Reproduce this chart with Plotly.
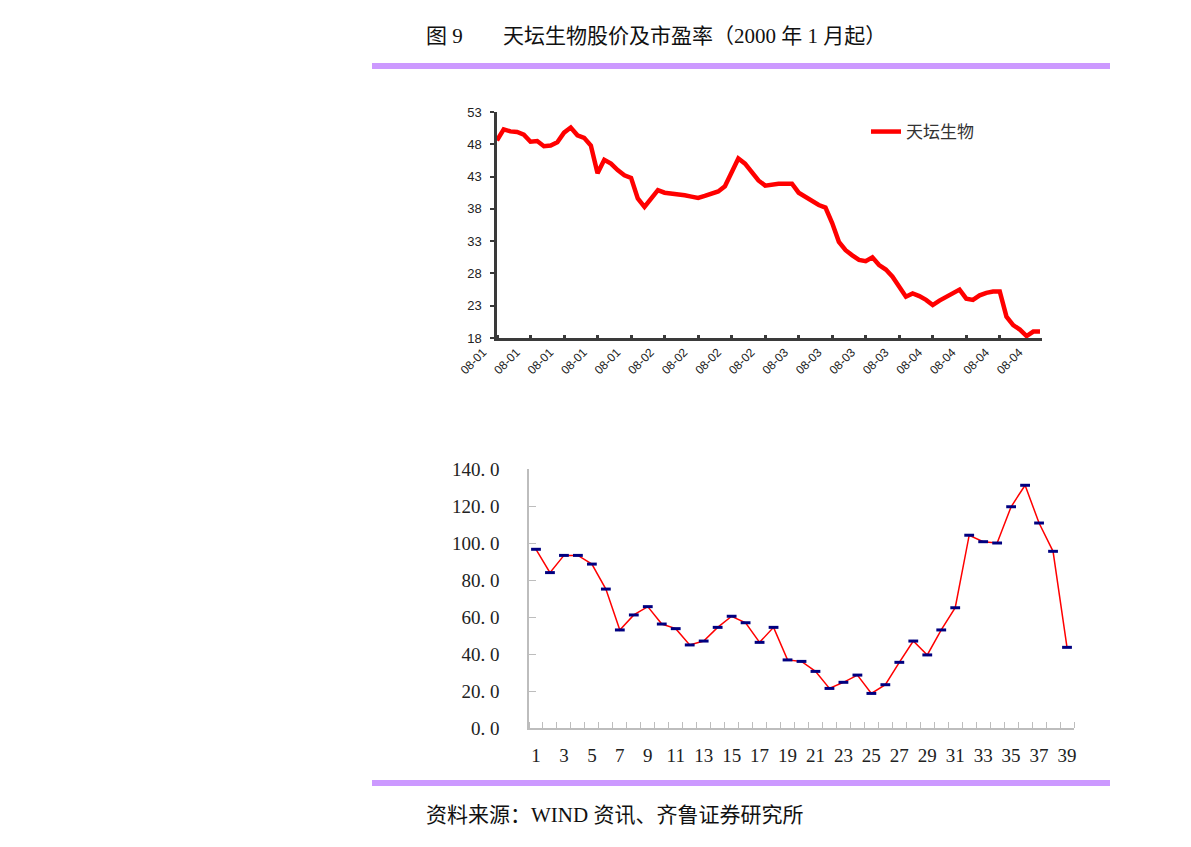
import plotly.graph_objects as go

# ---------------- data ----------------
# Top chart: daily close price of 天坛生物 (trading-day index 0..81)
price = [48.6, 50.3, 50.0, 49.9, 49.5, 48.4, 48.5, 47.7, 47.8, 48.3,
         49.8, 50.6, 49.4, 49.0, 47.8, 43.5, 45.6, 45.0, 44.0, 43.2,
         42.8, 39.6, 38.3, 39.6, 40.9, 40.5, 40.4, 40.2, 40.1, 39.9,
         39.7, 40.0, 40.4, 40.7, 41.5, 43.6, 45.8, 45.0, 43.7, 42.4,
         41.6, 41.8, 41.9, 41.9, 41.9, 40.5, 39.9, 39.1, 38.6, 38.2,
         35.8, 32.9, 31.6, 30.8, 30.1, 29.9, 30.5, 29.3, 28.6, 27.5,
         26.0, 24.4, 24.9, 24.5, 23.9, 23.1, 23.8, 24.4, 24.9, 25.5,
         24.1, 23.9, 24.6, 25.0, 25.2, 25.2, 21.3, 20.0, 19.3, 18.3,
         19.0, 19.0]
day_index = list(range(len(price)))
date_labels = ["08-01"] * 5 + ["08-02"] * 4 + ["08-03"] * 4 + ["08-04"] * 4
label_days = [5 * k for k in range(len(date_labels))]
tick_days = [5 * k for k in range(16)]
price_ticks = [18, 23, 28, 33, 38, 43, 48, 53]

# Bottom chart: P/E ratio by period 1..39
pe_period = list(range(1, 40))
pe_value = [96.6, 84.0, 93.3, 93.3, 88.6, 75.1, 53.0, 61.1, 65.6, 56.2,
            53.7, 44.9, 47.0, 54.4, 60.4, 56.9, 46.3, 54.4, 36.8, 36.0,
            30.6, 21.4, 24.7, 28.6, 18.7, 23.4, 35.5, 47.0, 39.5, 53.0,
            65.0, 104.2, 100.7, 100.0, 119.6, 131.2, 110.8, 95.5, 43.6]
pe_ticks = [0, 20, 40, 60, 80, 100, 120, 140]
pe_ticktext = ["0. 0", "20. 0", "40. 0", "60. 0", "80. 0", "100. 0", "120. 0", "140. 0"]
period_labels = [p for p in pe_period if p % 2 == 1]

title_num = "图 9"
title_text = "天坛生物股价及市盈率（2000 年 1 月起）"
source_text = "资料来源：WIND 资讯、齐鲁证券研究所"

# ---------------- figure ----------------
OFF = 8                      # page body margin
W, H = 1191 - OFF, 847 - OFF
def px_x(p):
    return (p - OFF) / W
def px_y(p):
    return 1 - (p - OFF) / H

fig = go.Figure()
fig.add_trace(go.Scatter(
    x=day_index, y=price, mode="lines", name="天坛生物",
    line=dict(color="#ff0000", width=4.5), xaxis="x", yaxis="y"))
fig.add_trace(go.Scatter(
    x=pe_period, y=pe_value, mode="lines+markers", showlegend=False,
    line=dict(color="#ff0000", width=1.5),
    marker=dict(symbol="line-ew", size=7, color="#000080",
                line=dict(width=3, color="#000080")),
    xaxis="x2", yaxis="y2"))

sans = "Liberation Sans, Arial, sans-serif"
serif = "Liberation Serif, Times New Roman, serif"
cjk = "Liberation Serif, Noto Sans CJK SC, serif"
dark = "#3a3a3a"
grey = "#bdbdbd"

fig.update_layout(
    width=W, height=H, autosize=False,
    margin=dict(l=0, r=0, t=0, b=0, pad=0, autoexpand=False),
    paper_bgcolor="white", plot_bgcolor="white",
    showlegend=True,
    legend=dict(x=px_x(866), y=px_y(132), xanchor="left", yanchor="middle",
                font=dict(family="Noto Sans CJK SC", size=17, color="#333333"),
                bgcolor="rgba(0,0,0,0)", itemwidth=30),
    xaxis=dict(domain=[px_x(497), px_x(1042)], range=[0, 81.3], anchor="y",
               automargin=False,
               showline=True, linecolor=dark, linewidth=2.5, showgrid=False,
               zeroline=False, tickmode="array", tickvals=label_days,
               ticktext=date_labels, ticks="", tickangle=-45,
               ticklabelshift=-14,
               tickfont=dict(family=sans, size=12, color="#222222"),
               minor=dict(tickmode="array", tickvals=tick_days, ticks="inside",
                          ticklen=3, tickwidth=2.5, tickcolor=dark, showgrid=False)),
    yaxis=dict(domain=[px_y(338), px_y(112)], range=[18, 53], anchor="x",
               automargin=False,
               showline=True, linecolor=dark, linewidth=2.5, showgrid=False,
               zeroline=False, tickmode="array", tickvals=price_ticks,
               ticks="outside", ticklen=4, tickwidth=2, tickcolor=dark,
               ticklabelstandoff=6,
               tickfont=dict(family=sans, size=13, color="#222222")),
    xaxis2=dict(domain=[px_x(529), px_x(1074)], range=[0.5, 39.5], anchor="y2",
                automargin=False,
                showline=True, linecolor=grey, linewidth=1.5, showgrid=False,
                zeroline=False, tickmode="array", tickvals=period_labels,
                ticktext=[str(p) for p in period_labels], ticks="",
                ticklabelstandoff=9,
                tickfont=dict(family=serif, size=19, color="#222222")),
    yaxis2=dict(domain=[px_y(728), px_y(469)], range=[0, 140], anchor="x2",
                automargin=False,
                showline=True, linecolor=grey, linewidth=1.5, showgrid=False,
                zeroline=False, tickmode="array", tickvals=pe_ticks,
                ticktext=pe_ticktext, ticks="inside", ticklen=7, tickwidth=1,
                tickcolor=grey, ticklabelstandoff=24,
                tickfont=dict(family=serif, size=19, color="#222222")),
)
fig.update_xaxes(selector=dict(anchor="y2"),
                 minor=dict(tickmode="array",
                            tickvals=[p + 0.5 for p in [0] + pe_period],
                            ticks="inside", ticklen=6, tickwidth=1,
                            tickcolor=grey, showgrid=False))

bar_color = "#cc99ff"
fig.add_shape(type="rect", xref="paper", yref="paper",
              x0=px_x(372), x1=px_x(1110), y0=px_y(69), y1=px_y(63),
              fillcolor=bar_color, line=dict(width=0))
fig.add_shape(type="rect", xref="paper", yref="paper",
              x0=px_x(372), x1=px_x(1110), y0=px_y(786), y1=px_y(780),
              fillcolor=bar_color, line=dict(width=0))

fig.add_annotation(x=px_x(424), y=px_y(36), xref="paper", yref="paper",
                   text=title_num, showarrow=False, xanchor="left", yanchor="middle",
                   font=dict(family=cjk, size=21, color="#111111"))
fig.add_annotation(x=px_x(501), y=px_y(36), xref="paper", yref="paper",
                   text=title_text, showarrow=False, xanchor="left", yanchor="middle",
                   font=dict(family=cjk, size=21, color="#111111"))
fig.add_annotation(x=px_x(424), y=px_y(815), xref="paper", yref="paper",
                   text=source_text, showarrow=False, xanchor="left", yanchor="middle",
                   font=dict(family=cjk, size=21, color="#111111"))

fig.write_html("out.html")
